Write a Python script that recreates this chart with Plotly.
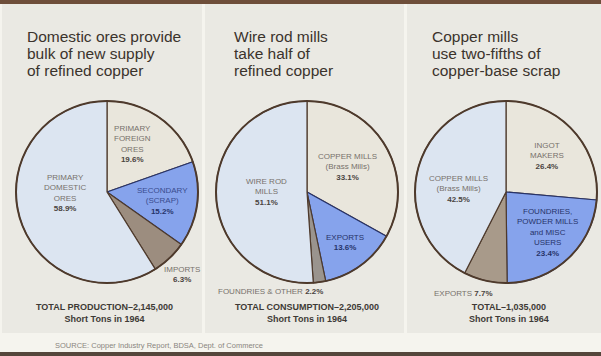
import plotly.graph_objects as go

W, H = 601, 356

# --- data -------------------------------------------------------------
supply_labels = ["PRIMARY FOREIGN ORES", "SECONDARY (SCRAP)", "IMPORTS", "PRIMARY DOMESTIC ORES"]
supply_pct = [19.6, 15.2, 6.3, 58.9]

consumption_labels = ["COPPER MILLS (Brass Mills)", "EXPORTS", "FOUNDRIES & OTHER", "WIRE ROD MILLS"]
consumption_pct = [33.1, 13.6, 2.2, 51.1]

scrap_labels = ["INGOT MAKERS", "FOUNDRIES, POWDER MILLS and MISC USERS", "EXPORTS", "COPPER MILLS (Brass Mills)"]
scrap_pct = [26.4, 23.4, 7.7, 42.5]

titles = [
    ["Domestic ores provide", "bulk of new supply", "of refined copper"],
    ["Wire rod mills", "take half of", "refined copper"],
    ["Copper mills", "use two-fifths of", "copper-base scrap"],
]
totals = [
    "TOTAL PRODUCTION\u20132,145,000",
    "TOTAL CONSUMPTION\u20132,205,000",
    "TOTAL\u20131,035,000",
]
total_units = "Short Tons in 1964"
source_note = "SOURCE: Copper Industry Report, BDSA, Dept. of Commerce"

# --- styling ----------------------------------------------------------
PAGE = "#F5F4EE"
PANEL = "#EAE9E3"
EDGE = "#4E3A2C"
NAVY = "#27336A"
GREY_TXT = "#77716B"
DARK_TXT = "#4A443F"
TITLE_TXT = "#3B332C"
FONT = "Liberation Sans, Arial, sans-serif"

colors = [
    ["#E9E6DC", "#86A3EC", "#9C8D7F", "#DCE5F1"],
    ["#E9E6DC", "#86A3EC", "#9A948E", "#DCE5F1"],
    ["#E9E6DC", "#86A3EC", "#A89A8A", "#DCE5F1"],
]
line_colors = [EDGE, NAVY, EDGE, EDGE]

centers = [(107, 192), (307, 192), (506, 192)]
R = 91


def px(x):
    return x / W


def py(y):
    return 1 - y / H


fig = go.Figure()

for (cx, cy), vals, labs, cols in zip(
    centers,
    [supply_pct, consumption_pct, scrap_pct],
    [supply_labels, consumption_labels, scrap_labels],
    colors,
):
    fig.add_trace(go.Pie(
        values=vals,
        labels=labs,
        sort=False,
        direction="clockwise",
        rotation=0,
        textinfo="none",
        hoverinfo="label+percent",
        showlegend=False,
        marker=dict(colors=cols, line=dict(color=line_colors, width=1.2)),
        domain=dict(x=[px(cx - R), px(cx + R)], y=[py(cy + R), py(cy - R)]),
    ))

shapes = []
# page bands and panels
shapes.append(dict(type="rect", xref="paper", yref="paper", x0=0, x1=1, y0=py(4), y1=1,
                   fillcolor="#6E4E3A", line_width=0, layer="below"))
shapes.append(dict(type="rect", xref="paper", yref="paper", x0=0, x1=1, y0=0, y1=py(352),
                   fillcolor="#55463B", line_width=0, layer="below"))
for x0, x1 in [(2, 202), (205, 404), (407, 601)]:
    shapes.append(dict(type="rect", xref="paper", yref="paper", x0=px(x0), x1=px(x1),
                       y0=py(333), y1=py(4), fillcolor=PANEL, line_width=0, layer="below"))
# outer rims of the pies
for cx, cy in centers:
    shapes.append(dict(type="circle", xref="paper", yref="paper",
                       x0=px(cx - R), x1=px(cx + R), y0=py(cy + R), y1=py(cy - R),
                       line=dict(color=EDGE, width=2)))

ann = []


def label(x, y, name, val, color=GREY_TXT, vcolor=DARK_TXT, inline=False):
    pct = f"<b>{val:.1f}%</b>"
    if inline:
        text = f"{name} <span style='color:{vcolor}'>{pct}</span>"
    else:
        text = f"{name}<br><span style='color:{vcolor}'>{pct}</span>"
    ann.append(dict(x=px(x), y=py(y), xref="paper", yref="paper", text=text,
                    showarrow=False, align="center", xanchor="center", yanchor="middle",
                    font=dict(family=FONT, size=8, color=color)))


# supply pie
label(132, 144, "PRIMARY<br>FOREIGN<br>ORES", supply_pct[0])
label(162, 201, "SECONDARY<br>(SCRAP)", supply_pct[1], color="#3A4C8E", vcolor=NAVY)
label(182, 274, "IMPORTS", supply_pct[2])
label(65, 193, "PRIMARY<br>DOMESTIC<br>ORES", supply_pct[3])

# consumption pie
label(347, 167, "COPPER MILLS<br>(Brass Mills)", consumption_pct[0])
label(345, 242, "EXPORTS", consumption_pct[1], color=NAVY, vcolor=NAVY)
label(270, 291, "FOUNDRIES &amp; OTHER", consumption_pct[2], inline=True)
label(266, 192, "WIRE ROD<br>MILLS", consumption_pct[3])

# scrap pie
label(547, 156, "INGOT<br>MAKERS", scrap_pct[0])
label(547, 232, "FOUNDRIES,<br>POWDER MILLS<br>and MISC<br>USERS", scrap_pct[1], color=NAVY, vcolor=NAVY)
label(463, 293, "EXPORTS", scrap_pct[2], inline=True)
label(458, 189, "COPPER MILLS<br>(Brass Mills)", scrap_pct[3])

# panel titles, one line at a time for tight leading
for x, lines in zip([25, 232, 430], titles):
    for i, line in enumerate(lines):
        ann.append(dict(x=px(x), y=py(37 + 16.5 * i), xref="paper", yref="paper", text=line,
                        showarrow=False, align="left", xanchor="left", yanchor="middle",
                        font=dict(family=FONT, size=15.5, color=TITLE_TXT)))

# totals
for x, t in zip([104, 307, 509], totals):
    ann.append(dict(x=px(x), y=py(313), xref="paper", yref="paper",
                    text=f"<b>{t}<br>{total_units}</b>", showarrow=False,
                    align="center", xanchor="center", yanchor="middle",
                    font=dict(family=FONT, size=9, color="#3E3A36")))

ann.append(dict(x=px(159), y=py(345), xref="paper", yref="paper", text=source_note,
                showarrow=False, xanchor="center", yanchor="middle",
                font=dict(family=FONT, size=7.5, color="#8A8680")))

fig.update_layout(
    width=W, height=H,
    margin=dict(l=0, r=0, t=0, b=0),
    paper_bgcolor=PAGE,
    plot_bgcolor=PAGE,
    shapes=shapes,
    annotations=ann,
)

fig.write_html("out.html")
